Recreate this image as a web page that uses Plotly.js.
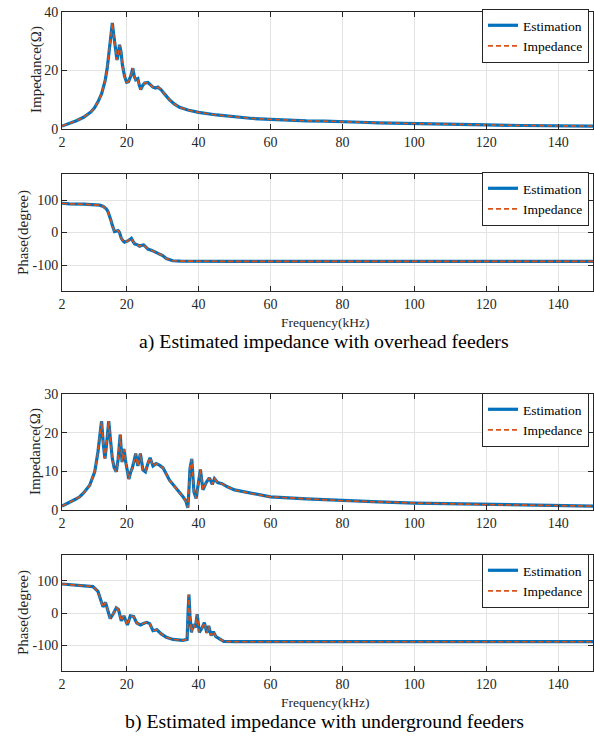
<!DOCTYPE html>
<html>
<head>
<meta charset="utf-8">
<script src="https://cdn.plot.ly/plotly-3.0.1.min.js"></script>
<style>html,body{margin:0;padding:0;background:#fff;}#chart{width:594px;height:736px;}</style>
</head>
<body>
<div id="chart"></div>
<script>
// ---- Data ----
// a) overhead feeders: impedance magnitude (Ohm)
var freqA_mag = [2, 4, 6, 8, 10, 11, 12, 13, 14, 14.6, 15.1, 15.6, 16.0, 16.3, 16.6, 17.0, 17.3, 17.7, 18.0, 18.4, 18.8, 19.4, 20.0, 20.5, 21.1, 21.7, 22.1, 22.5, 23.1, 23.5, 23.9, 24.4, 25.0, 25.9, 26.6, 27.3, 28.0, 28.7, 29.2, 29.6, 30.5, 31.9, 33.3, 34.7, 37, 40, 45, 50, 55, 60, 65, 70, 75, 80, 85, 90, 100, 110, 120, 130, 140, 150];
var magA = [1.0, 1.8, 2.8, 4.0, 5.8, 7.2, 9.3, 12, 16.5, 21, 26, 31, 36.3, 33, 29.5, 26, 23.6, 26, 28.8, 26.5, 22, 18, 16, 16.2, 18, 20.8, 18, 16.8, 17.2, 15, 13.5, 14.8, 15.7, 15.9, 15.2, 14.3, 14.0, 14.3, 13.8, 13.4, 12, 10, 8.5, 7.4, 6.5, 5.7, 4.8, 4.1, 3.6, 3.3, 3.0, 2.8, 2.7, 2.4, 2.3, 2.1, 1.8, 1.6, 1.4, 1.2, 1.1, 1.0];
// a) overhead feeders: phase (degree)
var freqA_ph = [2, 4, 8, 11, 12.5, 13.5, 14.3, 14.8, 15.2, 15.6, 16.0, 16.3, 16.6, 17.0, 17.6, 18.0, 18.5, 19.0, 19.4, 20.3, 21.0, 21.3, 21.8, 22.2, 23.0, 23.6, 24.2, 24.7, 25.3, 25.9, 27.0, 28.2, 29.0, 30.0, 31.0, 32.0, 32.8, 35, 40, 50, 60, 80, 100, 120, 150];
var phA = [90, 88, 87, 86, 84, 80, 73, 64, 53, 38, 22, 10, 3, 4, 6, 0, -18, -26, -30, -26, -20, -18, -28, -35, -38, -42, -39, -38, -44, -51, -55, -61, -64, -71, -80, -85, -87, -88, -89, -89, -89, -89, -89, -89, -89];
// b) underground feeders: impedance magnitude (Ohm)
var freqB_mag = [2, 4, 6, 7, 8, 9.7, 11.1, 12.0, 12.5, 13.0, 13.5, 13.95, 14.4, 15.0, 15.5, 16.0, 16.5, 17.1, 17.6, 18.2, 18.7, 19.2, 19.8, 20.6, 21.0, 21.5, 22.0, 22.5, 23.1, 23.8, 24.5, 25.2, 25.9, 26.5, 27.3, 28.2, 29.1, 30.1, 31.9, 33.8, 35.6, 36.5, 37.0, 37.3, 37.6, 38.1, 38.7, 39.3, 40.1, 40.5, 41.2, 42.1, 43.0, 43.8, 44.4, 45.3, 46.5, 48, 50, 55, 60, 70, 80, 90, 100, 120, 140, 150];
var magB = [1.0, 1.9, 2.9, 3.5, 4.4, 6.4, 9.9, 15, 19, 23, 17, 13.3, 17, 23, 18, 13.3, 11, 9.9, 13, 19.5, 12.4, 15.8, 12, 8, 9.5, 10.7, 12.5, 14.6, 11.4, 14.6, 10.4, 9.9, 12, 13.5, 11.4, 12, 11.6, 10.9, 7.7, 5.6, 3.5, 2.2, 0.6, 5, 10.7, 13.2, 4.7, 3.0, 9, 10.5, 5.2, 7.1, 8.3, 6.6, 8.1, 7.1, 6.8, 6.0, 5.2, 4.2, 3.4, 2.9, 2.4, 2.1, 1.8, 1.4, 1.2, 1.0];
// b) underground feeders: phase (degree)
var freqB_ph = [2, 4, 8, 10.6, 12.0, 12.5, 12.9, 13.4, 14.1, 14.8, 15.4, 16.2, 17.1, 17.7, 18.5, 19.2, 20.2, 21.0, 21.9, 22.8, 23.8, 25.0, 25.6, 26.4, 27.3, 28.4, 29.6, 31.0, 32.9, 35.6, 36.8, 37.1, 37.3, 37.6, 38.0, 38.5, 39.1, 39.6, 40.2, 41.0, 41.6, 42.3, 42.8, 43.5, 44.1, 44.8, 45.8, 47, 50, 60, 80, 100, 120, 150];
var phB = [90, 88, 86, 82, 67, 50, 31, 19, 33, 6, -17, -4, 16, 11, -24, -9, -37, -9, -11, -31, -37, -31, -29, -33, -55, -52, -65, -75, -82, -85, -82, 10, 57, -9, -60, -35, -45, -4, -60, -45, -30, -62, -40, -70, -58, -73, -81, -88, -89, -89, -89, -89, -89, -89];

var seriesNames = ['Estimation', 'Impedance'];
var xTicks = [2, 20, 40, 60, 80, 100, 120, 140];
var magTicksA = [0, 20, 40];
var magTicksB = [0, 10, 20, 30];
var phTicks = [-100, 0, 100];
var phTickLabels = ['-100', '0', '100'];
var panelTitles = ['a) Estimated impedance with overhead feeders', 'b) Estimated impedance with underground feeders'];
var xLabel = 'Frequency(kHz)';
var yLabels = ['Impedance(Ω)', 'Phase(degree)'];

// ---- Styling ----
var BLUE = '#0072BD', ORANGE = '#D95319', AX = '#262626', GRID = '#e3e3e3';
var FONT = 'Liberation Serif';

function pair(x, y, xa, ya, leg) {
  return [
    {x: x, y: y, xaxis: xa, yaxis: ya, legend: leg, name: seriesNames[0], type: 'scatter', mode: 'lines',
     line: {color: BLUE, width: 3.2}},
    {x: x, y: y, xaxis: xa, yaxis: ya, legend: leg, name: seriesNames[1], type: 'scatter', mode: 'lines',
     line: {color: ORANGE, width: 1.6, dash: '5px,3px'}}
  ];
}

var data = [].concat(
  pair(freqA_mag, magA, 'x', 'y', 'legend'),
  pair(freqA_ph, phA, 'x2', 'y2', 'legend2'),
  pair(freqB_mag, magB, 'x3', 'y3', 'legend3'),
  pair(freqB_ph, phB, 'x4', 'y4', 'legend4')
);

var H = 736;
function dom(top, bottom) { return [1 - bottom / H, 1 - top / H]; }

function xax(anchor) {
  return {anchor: anchor, domain: [0, 1], range: [2, 149.7], tickvals: xTicks, ticks: 'inside', ticklen: 5,
    tickcolor: AX, showline: true, linecolor: AX, linewidth: 1, mirror: 'ticks', showgrid: true, gridcolor: GRID,
    zeroline: false, tickfont: {family: FONT, size: 14, color: AX}};
}
function yax(anchor, d, range, tv, tt) {
  var a = {anchor: anchor, domain: d, range: range, tickvals: tv, ticks: 'inside', ticklen: 5,
    tickcolor: AX, showline: true, linecolor: AX, linewidth: 1, mirror: 'ticks', showgrid: true, gridcolor: GRID,
    zeroline: false, tickfont: {family: FONT, size: 14, color: AX}};
  if (tt) { a.ticktext = tt; }
  return a;
}
function leg(topPx) {
  return {x: (589 - 62) / 531, xanchor: 'right', y: 1 - topPx / H, yanchor: 'top',
    bgcolor: '#ffffff', bordercolor: AX, borderwidth: 1, font: {family: FONT, size: 13.5, color: '#000'},
    tracegroupgap: 0, itemwidth: 30};
}
function ann(text, xPx, yPx, size, angle) {
  return {text: text, xref: 'paper', yref: 'paper', x: (xPx - 62) / 531, y: 1 - yPx / H,
    xanchor: 'center', yanchor: 'middle', showarrow: false, textangle: angle || 0,
    font: {family: FONT, size: size, color: size > 15 ? '#000' : AX}};
}

var layout = {
  width: 594, height: 736,
  margin: {l: 62, r: 1, t: 0, b: 0},
  paper_bgcolor: '#fff', plot_bgcolor: '#fff',
  font: {family: FONT},
  showlegend: true,
  xaxis: xax('y'), yaxis: yax('x', dom(12, 129), [0, 40], magTicksA),
  xaxis2: xax('y2'), yaxis2: yax('x2', dom(174, 291), [-180, 180], phTicks, phTickLabels),
  xaxis3: xax('y3'), yaxis3: yax('x3', dom(394, 510), [0, 30], magTicksB),
  xaxis4: xax('y4'), yaxis4: yax('x4', dom(555, 671), [-180, 180], phTicks, phTickLabels),
  legend: leg(9), legend2: leg(172), legend3: leg(393), legend4: leg(554),
  annotations: [
    ann(yLabels[0], 36, 70, 15, -90),
    ann(yLabels[1], 23, 233, 15, -90),
    ann(yLabels[0], 36, 452, 15, -90),
    ann(yLabels[1], 23, 613, 15, -90),
    ann(xLabel, 325, 322, 13.5),
    ann(xLabel, 325, 702, 13.5),
    ann(panelTitles[0], 324, 341, 19.8),
    ann(panelTitles[1], 324, 721, 19.8)
  ]
};

Plotly.newPlot('chart', data, layout, {displayModeBar: false, staticPlot: true});
</script>
</body>
</html>
